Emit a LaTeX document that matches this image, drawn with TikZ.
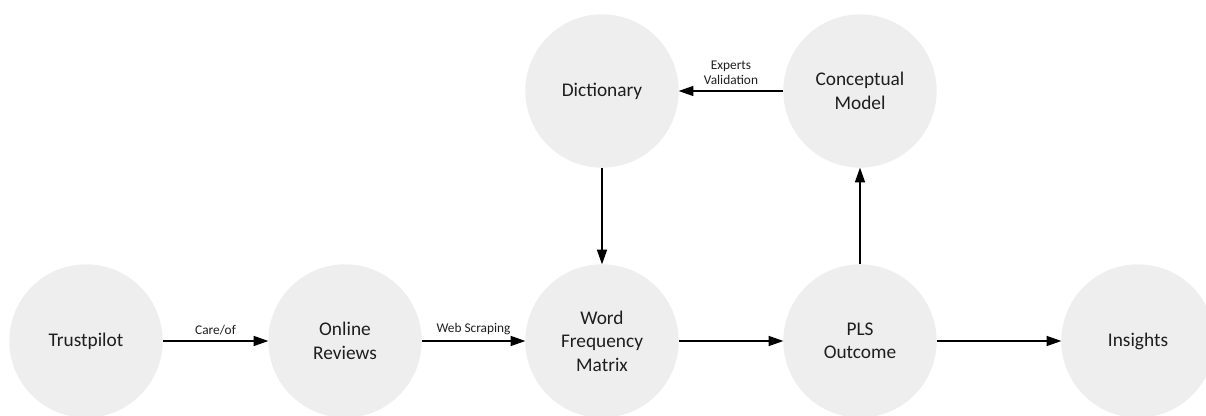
\documentclass[tikz,border=0pt]{standalone}
\usepackage{fontspec}
\setmainfont{Carlito}
\usetikzlibrary{arrows.meta}
\definecolor{circfill}{HTML}{EEEEEE}
\definecolor{txt}{HTML}{1E1E1E}
\tikzset{
  bubble/.style={circle, fill=circfill, draw=none, minimum size=115pt, inner sep=0pt, outer sep=0pt,
    text=txt, align=center, font=\fontsize{14.5}{17.6}\selectfont},
  conn/.style={line width=1.1pt, draw=black, -{Triangle[length=11pt,width=7.5pt]}},
  lbl/.style={font=\fontsize{10}{11.5}\selectfont, text=txt, align=center, inner sep=1pt}
}
\begin{document}
\begin{tikzpicture}[x=0.75pt,y=-0.75pt]
\useasboundingbox (0,0) rectangle (1206,416);
\node[bubble] (tp) at (86,341) {Trustpilot};
\node[bubble] (or) at (345,341) {Online\\Reviews};
\node[bubble] (wfm) at (602,341) {Word\\Frequency\\Matrix};
\node[bubble] (pls) at (860,341) {PLS\\Outcome};
\node[bubble] (ins) at (1138,341) {Insights};
\node[bubble] (dic) at (602,91) {Dictionary};
\node[bubble] (cm) at (860,91) {Conceptual\\Model};
\draw[conn] (tp) -- node[lbl, above=3pt] (l1) {Care/of} (or);
\draw[conn] (or) -- node[lbl, above=3pt] (l2) {Web Scraping} (wfm);
\draw[conn] (wfm) -- (pls);
\draw[conn] (pls) -- (ins);
\draw[conn] (dic) -- (wfm);
\draw[conn] (pls) -- (cm);
\draw[conn] (cm) -- node[lbl, above=3pt] (l3) {Experts\\Validation} (dic);
\end{tikzpicture}
\end{document}
